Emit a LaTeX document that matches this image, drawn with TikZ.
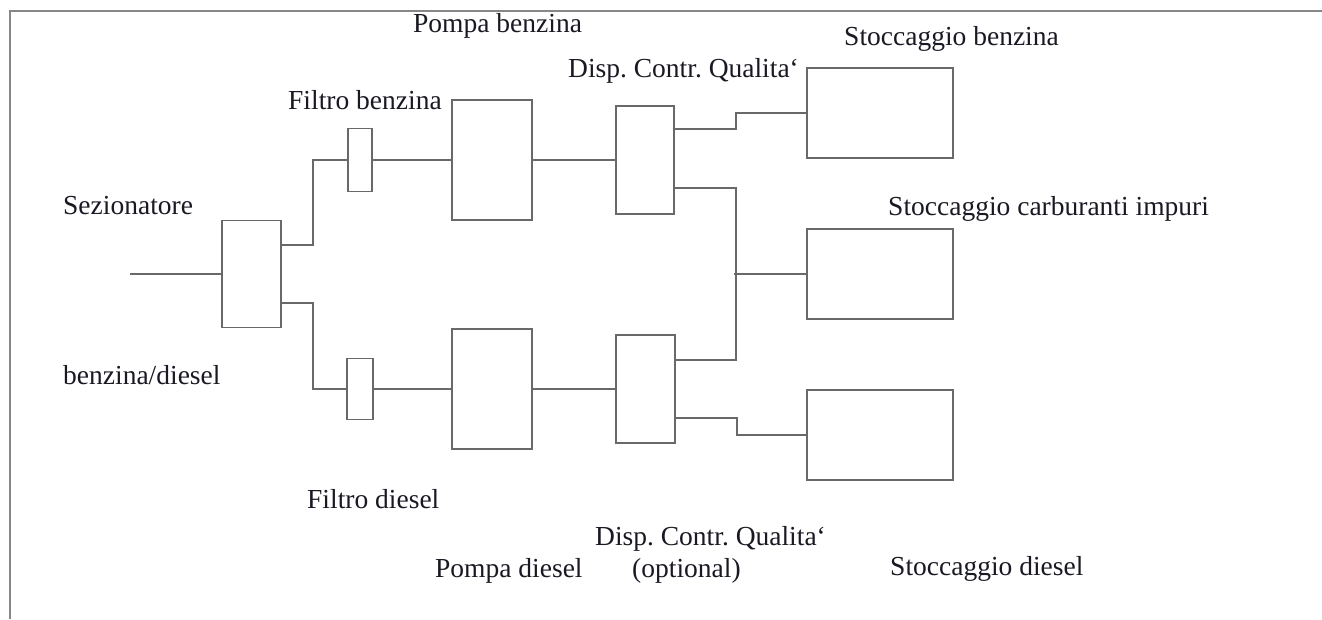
\documentclass[tikz,border=0pt]{standalone}
\usepackage{fontspec}
\setmainfont{Liberation Serif}
\frenchspacing
\definecolor{linegray}{RGB}{105,105,105}
\definecolor{framegray}{RGB}{135,135,135}
\definecolor{txt}{RGB}{25,25,35}
\begin{document}
\begin{tikzpicture}[x=1pt,y=-1pt,
  blk/.style={draw=linegray,line width=1.6pt,inner sep=0pt,fill=white},
  lbl/.style={anchor=base west,inner sep=0pt,text=txt,font=\fontsize{27.5}{31}\selectfont},
  pipe/.style={draw=linegray,line width=1.6pt}]
\useasboundingbox (0,0) rectangle (1322,619);
% frame
\draw[framegray,line width=1.6pt] (1322,11) -- (10,11) -- (10,619);
% boxes
\node[blk,minimum width=59pt,minimum height=107pt] (sez) at (251.5,274) {};
\node[blk,minimum width=24pt,minimum height=63pt] (fb) at (360,160) {};
\node[blk,minimum width=26pt,minimum height=61pt] (fd) at (360,389) {};
\node[blk,minimum width=80pt,minimum height=120pt] (pb) at (492,160) {};
\node[blk,minimum width=80pt,minimum height=120pt] (pd) at (492,389) {};
\node[blk,minimum width=58pt,minimum height=108pt] (db) at (645,160) {};
\node[blk,minimum width=59pt,minimum height=108pt] (dd) at (645.5,389) {};
\node[blk,minimum width=146pt,minimum height=90pt] (sb) at (880,113) {};
\node[blk,minimum width=146pt,minimum height=90pt] (si) at (880,274) {};
\node[blk,minimum width=146pt,minimum height=90pt] (sd) at (880,435) {};
\coordinate (in) at (130,274);
% connectors
\draw[pipe] (in) -- (sez.west);
\draw[pipe] ([yshift=29pt]sez.east) -- ++(31pt,0) |- (fb.west);
\draw[pipe] ([yshift=-29pt]sez.east) -- ++(31pt,0) |- (fd.west);
\draw[pipe] (fb.east) -- (pb.west);
\draw[pipe] (fd.east) -- (pd.west);
\draw[pipe] (pb.east) -- (db.west);
\draw[pipe] (pd.east) -- (dd.west);
\draw[pipe] ([yshift=31pt]db.east) -- ++(61pt,0) |- (sb.west);
\draw[pipe] ([yshift=-28pt]db.east) -- ++(61pt,0) |- ([yshift=29pt]dd.east);
\draw[pipe] (si.west) -- ++(-72pt,0);
\draw[pipe] ([yshift=-29pt]dd.east) -- ++(61pt,0) |- (sd.west);
% labels
\node[lbl] (tsez) at (63,214.5) {Sezionatore};
\node[lbl] (tbd) at (63,384) {benzina/diesel};
\node[lbl] (tfb) at (288,109) {Filtro benzina};
\node[lbl] (tpb) at (413,32) {Pompa benzina};
\node[lbl] (tdb) at (568,77) {Disp. Contr. Qualita‘};
\node[lbl] (tsb) at (844,45) {Stoccaggio benzina};
\node[lbl] (tsi) at (888,215) {Stoccaggio carburanti impuri};
\node[lbl] (tfd) at (307,508) {Filtro diesel};
\node[lbl] (tdd1) at (595,545) {Disp. Contr. Qualita‘};
\node[lbl] (tdd2) at (632,577) {(optional)};
\node[lbl] (tpd) at (435,577) {Pompa diesel};
\node[lbl] (tsd) at (890,575) {Stoccaggio diesel};
\end{tikzpicture}
\end{document}
